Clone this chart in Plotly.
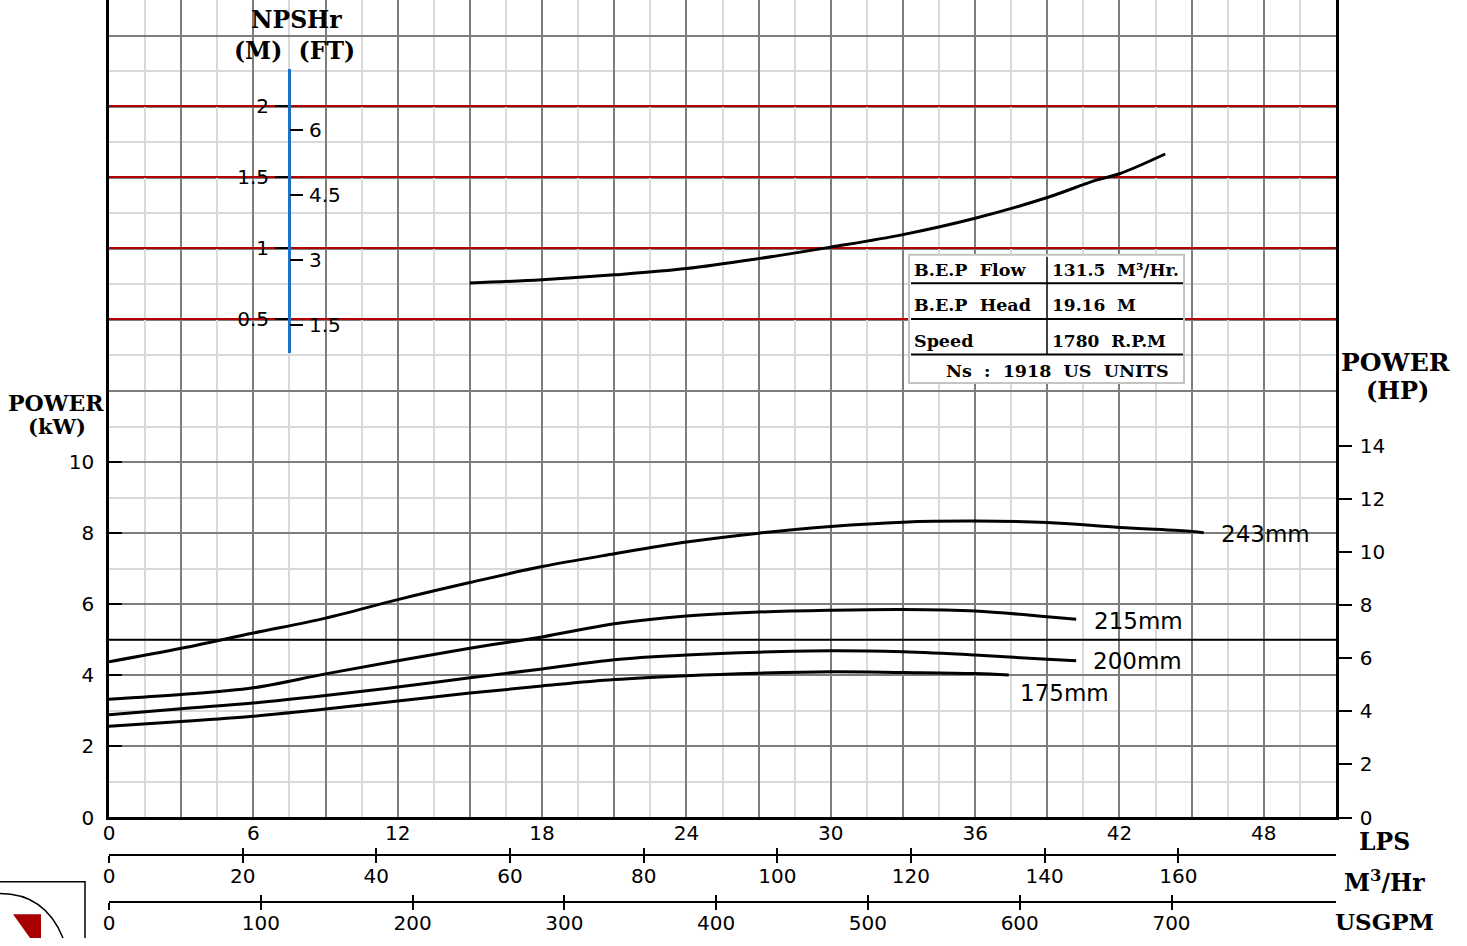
import plotly.graph_objects as go

# ---------------- data ----------------
LPS_GRID = [0, 3, 6, 9, 12, 15, 18, 21, 24, 27, 30, 33, 36, 39, 42, 45, 48, 51]
LPS_LABELS = [0, 6, 12, 18, 24, 30, 36, 42, 48]
M3H_TICKS = [0, 20, 40, 60, 80, 100, 120, 140, 160]
USGPM_TICKS = [0, 100, 200, 300, 400, 500, 600, 700]
KW_LABELS = [0, 2, 4, 6, 8, 10]
KW_UPPER_GRID = [12, 14, 16, 18, 20, 22]
HP_TICKS = [0, 2, 4, 6, 8, 10, 12, 14]
NPSH_M_TICKS = [0.5, 1, 1.5, 2]
NPSH_FT_TICKS = [1.5, 3, 4.5, 6]

lps_243 = [0, 3, 6, 9, 12, 15, 18, 21, 24, 27, 30, 33, 36, 39, 42, 45, 45.5]
kw_243 = [4.38, 4.76, 5.19, 5.61, 6.13, 6.61, 7.06, 7.42, 7.75, 8.00, 8.19, 8.31, 8.34, 8.30, 8.16, 8.05, 8.01]
lps_215 = [0, 3, 6, 9, 12, 15, 18, 21, 24, 27, 30, 33, 36, 39, 40.2]
kw_215 = [3.33, 3.46, 3.65, 4.04, 4.41, 4.76, 5.08, 5.45, 5.67, 5.78, 5.83, 5.85, 5.81, 5.65, 5.58]
lps_200 = [0, 3, 6, 9, 12, 15, 18, 21, 24, 27, 30, 33, 36, 39, 40.2]
kw_200 = [2.89, 3.06, 3.22, 3.43, 3.67, 3.93, 4.18, 4.44, 4.57, 4.65, 4.69, 4.66, 4.57, 4.45, 4.41]
lps_175 = [0, 3, 6, 9, 12, 15, 18, 21, 24, 27, 30, 33, 36, 37.4]
kw_175 = [2.57, 2.70, 2.85, 3.05, 3.28, 3.50, 3.70, 3.88, 3.99, 4.06, 4.10, 4.08, 4.05, 4.01]
lps_npsh = [15, 18, 21, 24, 27, 30, 33, 36, 39, 41, 42, 43.9]
npsh_m = [0.752, 0.776, 0.810, 0.854, 0.924, 1.005, 1.093, 1.208, 1.354, 1.474, 1.521, 1.66]

CURVES = [("243mm", lps_243, kw_243), ("215mm", lps_215, kw_215),
          ("200mm", lps_200, kw_200), ("175mm", lps_175, kw_175)]

REF_LINE_KW = 5
TABLE_ROWS = [("B.E.P  Flow", "131.5  M³/Hr."), ("B.E.P  Head", "19.16  M"), ("Speed", "1780  R.P.M")]
TABLE_FOOT = "Ns  :  1918  US  UNITS"

LPS_MAX = 51.0
KW_MAX = 23.0
M3H_PER_LPS = 3.6
GPM_PER_LPS = 15.8503
KW_PER_HP = 0.7457
FT_PER_M = 3.28084
NPSH_RANGE = [0.257, 2.257]

# ---------------- layout helpers ----------------
W, H = 1467, 946
L, R = 109, 1336


def PX(x):
    return (x - L) / (R - L)


def PY(y):
    return (H - y) / H


DARK = "#7d7d7d"
LIGHT = "#d9d9d9"
RED = "#b30000"
BLUE = "#1a73c9"
SANS = "DejaVu Sans"
SERIF = "DejaVu Serif"
TF = dict(family=SANS, size=20, color="black")

fig = go.Figure()

for name, xs, ys in CURVES:
    fig.add_trace(go.Scatter(x=xs, y=ys, mode="lines", line=dict(color="black", width=3, shape="spline"),
                             name=name, showlegend=False, hoverinfo="skip"))

fig.add_trace(go.Scatter(x=lps_npsh, y=npsh_m, xaxis="x", yaxis="y3", mode="lines",
                         line=dict(color="black", width=3, shape="spline"), showlegend=False, hoverinfo="skip"))

lps_text = [str(v) if v in LPS_LABELS else "" for v in LPS_GRID]
plot_bottom = PY(828)

fig.update_layout(
    width=W, height=H, autosize=False,
    margin=dict(l=L, r=W - R, t=0, b=0),
    paper_bgcolor="white", plot_bgcolor="rgba(0,0,0,0)",
    showlegend=False,
    xaxis=dict(range=[0, LPS_MAX], domain=[0, 1], anchor="y",
               tickmode="array", tickvals=LPS_GRID, ticktext=lps_text,
               showgrid=True, gridcolor=DARK, gridwidth=1.5,
               minor=dict(dtick=1.5, tick0=0, showgrid=True, gridcolor=LIGHT, gridwidth=1.5, ticks=""),
               showline=True, linecolor="black", linewidth=2.5, ticks="", ticklen=0,
               tickfont=TF, zeroline=False, ticklabelstandoff=-4),
    yaxis=dict(range=[0, KW_MAX], domain=[plot_bottom, 1], anchor="x",
               tickmode="array", tickvals=KW_LABELS,
               showgrid=True, gridcolor=DARK, gridwidth=1.5,
               minor=dict(dtick=1, tick0=0, showgrid=True, gridcolor=LIGHT, gridwidth=1.5, ticks=""),
               showline=True, linecolor="black", linewidth=2.5,
               ticks="inside", ticklen=13, tickwidth=2, tickcolor="black",
               tickfont=TF, zeroline=False, ticklabelstandoff=8),
    yaxis6=dict(range=[0, KW_MAX], overlaying="y", anchor="x", side="left",
                tickmode="array", tickvals=KW_UPPER_GRID, showticklabels=False, ticks="",
                showgrid=True, gridcolor=DARK, gridwidth=1.5, showline=False, zeroline=False),
    yaxis2=dict(range=[0, KW_MAX / KW_PER_HP], overlaying="y", anchor="x", side="right",
                tickmode="array", tickvals=HP_TICKS, ticks="outside", ticklen=13, tickwidth=2,
                tickcolor="black", showgrid=False, showline=True, linecolor="black", linewidth=2.5,
                zeroline=False, tickfont=TF, ticklabelstandoff=4),
    yaxis3=dict(range=NPSH_RANGE, domain=[PY(358), PY(70)], anchor="free", position=PX(289), side="left",
                tickmode="array", tickvals=NPSH_M_TICKS, ticks="outside", ticklen=13, tickwidth=2,
                tickcolor="black", showgrid=True, gridcolor=RED, gridwidth=2,
                showline=True, linecolor=BLUE, linewidth=3, zeroline=False, tickfont=TF,
                ticklabelstandoff=2),
    yaxis5=dict(range=[NPSH_RANGE[0] * FT_PER_M, NPSH_RANGE[1] * FT_PER_M], overlaying="y3",
                anchor="free", position=PX(289), side="right",
                tickmode="array", tickvals=NPSH_FT_TICKS, ticks="outside", ticklen=13, tickwidth=2,
                tickcolor="black", showgrid=False, showline=False, zeroline=False, tickfont=TF,
                ticklabelstandoff=2),
    xaxis2=dict(range=[0, LPS_MAX * M3H_PER_LPS], overlaying="x", anchor="free", position=PY(866), side="bottom",
                tickmode="array", tickvals=M3H_TICKS, ticks="outside", ticklen=7, tickwidth=2, tickcolor="black",
                showgrid=False, showline=True, linecolor="black", linewidth=2, zeroline=False, tickfont=TF,
                ticklabelstandoff=-4),
    xaxis4=dict(range=[0, LPS_MAX * M3H_PER_LPS], overlaying="x", anchor="free", position=PY(866), side="bottom",
                tickmode="array", tickvals=M3H_TICKS, ticks="inside", ticklen=7, tickwidth=2, tickcolor="black",
                showgrid=False, showline=False, zeroline=False, showticklabels=False),
    xaxis3=dict(range=[0, LPS_MAX * GPM_PER_LPS], overlaying="x", anchor="free", position=PY(914), side="bottom",
                tickmode="array", tickvals=USGPM_TICKS, ticks="outside", ticklen=7, tickwidth=2, tickcolor="black",
                showgrid=False, showline=True, linecolor="black", linewidth=2, zeroline=False, tickfont=TF,
                ticklabelstandoff=-4),
    xaxis5=dict(range=[0, LPS_MAX * GPM_PER_LPS], overlaying="x", anchor="free", position=PY(914), side="bottom",
                tickmode="array", tickvals=USGPM_TICKS, ticks="inside", ticklen=7, tickwidth=2, tickcolor="black",
                showgrid=False, showline=False, zeroline=False, showticklabels=False),
)

# empty traces so the extra axes are drawn
fig.add_trace(go.Scatter(x=[None], y=[None], xaxis="x", yaxis="y2", showlegend=False, hoverinfo="skip"))
fig.add_trace(go.Scatter(x=[None], y=[None], xaxis="x", yaxis="y5", showlegend=False, hoverinfo="skip"))
fig.add_trace(go.Scatter(x=[None], y=[None], xaxis="x", yaxis="y6", showlegend=False, hoverinfo="skip"))
for xa in ["x2", "x3", "x4", "x5"]:
    fig.add_trace(go.Scatter(x=[None], y=[None], xaxis=xa, yaxis="y", showlegend=False, hoverinfo="skip"))

shapes = []
# 5 kW reference line
shapes.append(dict(type="line", xref="paper", yref="y", x0=0, x1=1, y0=REF_LINE_KW, y1=REF_LINE_KW,
                   line=dict(color="black", width=2)))
# info table
shapes.append(dict(type="rect", xref="paper", yref="paper", x0=PX(909), x1=PX(1184), y0=PY(388), y1=PY(258),
                   line=dict(color="#c4c4c4", width=2), fillcolor="white", layer="above"))
for yy in [287, 323, 359]:
    shapes.append(dict(type="line", xref="paper", yref="paper", x0=PX(911), x1=PX(1183), y0=PY(yy), y1=PY(yy),
                       line=dict(color="black", width=2), layer="above"))
shapes.append(dict(type="line", xref="paper", yref="paper", x0=PX(1047), x1=PX(1047), y0=PY(359), y1=PY(260),
                   line=dict(color="black", width=1.5), layer="above"))
# logo fragment bottom-left
shapes.append(dict(type="path", xref="paper", yref="paper",
                   path=f"M {PX(0)},{PY(893)} L {PX(85)},{PY(893)} L {PX(85)},{PY(950)}",
                   line=dict(color="black", width=1.5)))
shapes.append(dict(type="path", xref="paper", yref="paper",
                   path=f"M {PX(0)},{PY(905)} Q {PX(45)},{PY(905)} {PX(63)},{PY(950)}",
                   line=dict(color="black", width=1.5)))
shapes.append(dict(type="path", xref="paper", yref="paper",
                   path=f"M {PX(13)},{PY(926)} L {PX(41)},{PY(926)} L {PX(41)},{PY(950)} L {PX(30)},{PY(950)} Z",
                   fillcolor="#a80000", line=dict(width=0)))
fig.update_layout(shapes=shapes)

ann = []


def txt(x, y, s, size=20, family=SERIF, bold=True, xanchor="center"):
    ann.append(dict(x=PX(x), y=PY(y), xref="paper", yref="paper", text=s, showarrow=False,
                    xanchor=xanchor, yanchor="middle",
                    font=dict(family=family, size=size, color="black", weight="bold" if bold else "normal")))


txt(296, 20, "NPSHr", 23.5)
txt(294, 52, "(M)  (FT)", 23.5)
txt(56, 408, "POWER", 22)
txt(57, 432, "(kW)", 21)
txt(1395, 367, "POWER", 25)
txt(1397, 396, "(HP)", 24)
txt(1385, 853, "LPS", 23.5)
txt(1385, 893, "M<sup>3</sup>/Hr", 23.5)
txt(1384, 933, "USGPM", 23)

row_y = [273, 309, 345]
for (k, v), yy in zip(TABLE_ROWS, row_y):
    txt(912, yy, k, 17.5, xanchor="left")
    txt(1050, yy, v, 17, xanchor="left")
txt(1057, 376, TABLE_FOOT, 17.5)

offsets = {"243mm": (15, -1), "215mm": (16, -2), "200mm": (15, 0), "175mm": (9, -18)}
for name, xs, ys in CURVES:
    dx, dy = offsets[name]
    ann.append(dict(x=xs[-1], y=ys[-1], xref="x", yref="y", text=name, showarrow=False,
                    xanchor="left", yanchor="middle", xshift=dx, yshift=dy,
                    font=dict(family=SANS, size=23, color="black")))

fig.update_layout(annotations=ann)

fig.write_html("out.html", config={"displayModeBar": False},
               post_script="document.body.style.margin='0';")
